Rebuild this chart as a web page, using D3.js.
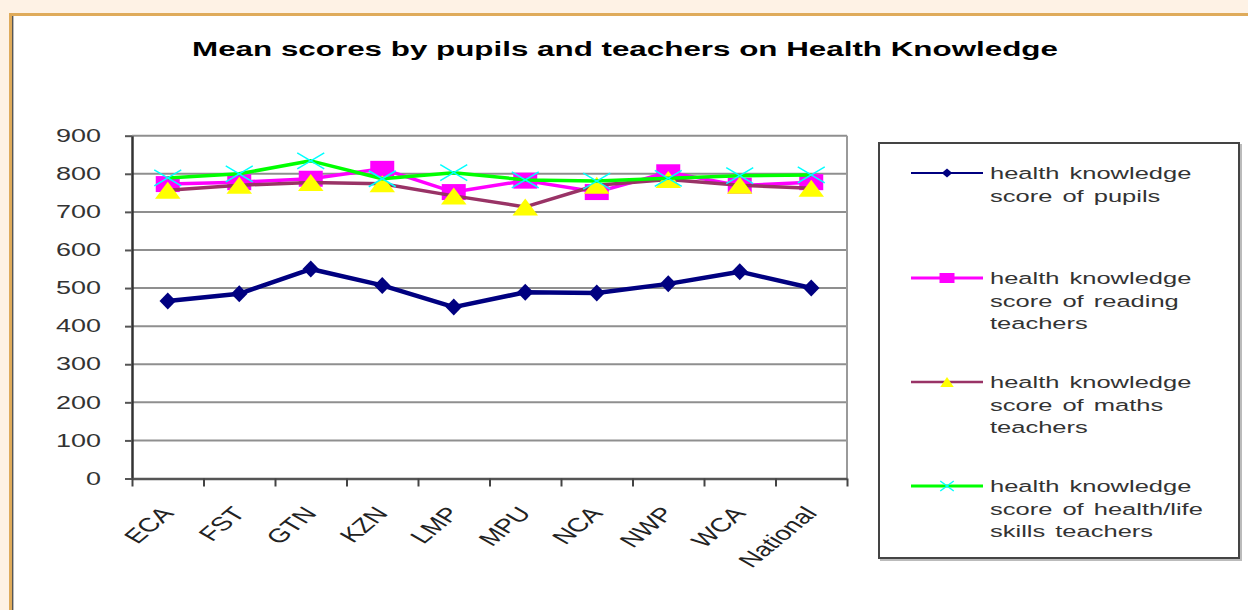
<!DOCTYPE html>
<html>
<head>
<meta charset="utf-8">
<script src="https://cdn.jsdelivr.net/npm/d3@7"></script>
<style>
    html, body { margin: 0; padding: 0; background: #fef2e5; }
    svg { display: block; }
    text { font-family: "Liberation Sans", Arial, sans-serif; }
</style>
</head>
<body>
<svg id="chart" width="1248" height="610"></svg>
<script>
// Data
const categories = ["ECA", "FST", "GTN", "KZN", "LMP", "MPU", "NCA", "NWP", "WCA", "National"];
const pupils = [466, 485, 550, 507, 450, 489, 487, 511, 543, 500];
const readingTeachers = [773, 778, 787, 813, 752, 782, 752, 804, 769, 778];
const mathsTeachers = [757, 770, 777, 774, 742, 713, 770, 785, 770, 762];
const healthTeachers = [789, 800, 834, 787, 803, 784, 781, 788, 795, 797];
const yTicks = [0, 100, 200, 300, 400, 500, 600, 700, 800, 900];
const seriesNames = [
    ["health knowledge", "score of pupils"],
    ["health knowledge", "score of reading", "teachers"],
    ["health knowledge", "score of maths", "teachers"],
    ["health knowledge", "score of health/life", "skills teachers"]
];
const title = "Mean scores by pupils and teachers on Health Knowledge";

// the source picture is stretched sideways, so text and markers are too
const SX = 1.5;

const svg = d3.select("#chart");

// frame: peach page, golden edge, white panel
svg.append("rect").attr("width", 1248).attr("height", 610).attr("fill", "#fef2e5");
svg.append("rect").attr("x", 9).attr("y", 13).attr("width", 1239).attr("height", 597).attr("fill", "#dfab5b");
svg.append("rect").attr("x", 12).attr("y", 16).attr("width", 1236).attr("height", 594).attr("fill", "#555");
svg.append("rect").attr("x", 13).attr("y", 16).attr("width", 1235).attr("height", 594).attr("fill", "#bbb");
svg.append("rect").attr("x", 14).attr("y", 16).attr("width", 1234).attr("height", 594).attr("fill", "#fff");

svg.append("text")
    .attr("transform", `translate(625,56) scale(1.53,1)`)
    .attr("text-anchor", "middle")
    .attr("font-weight", "bold")
    .attr("font-size", 20.5)
    .attr("fill", "#000")
    .text(title);

const plot = { left: 132, right: 847, top: 135.7, bottom: 478.5 };

const x = d3.scaleBand().domain(categories).range([plot.left, plot.right]);
const xEdges = d3.scaleLinear().domain([0, categories.length]).range([plot.left, plot.right]);
const y = d3.scaleLinear().domain([0, 900]).range([plot.bottom, plot.top]);
const cx = d => x(d) + x.bandwidth() / 2;

// grid
svg.append("g")
    .selectAll("line")
    .data(yTicks.filter(v => v > 0))
    .join("line")
    .attr("x1", plot.left).attr("x2", plot.right)
    .attr("y1", d => y(d)).attr("y2", d => y(d))
    .attr("stroke", "#8f8f8f")
    .attr("stroke-width", 2);

svg.append("line")
    .attr("x1", plot.right).attr("x2", plot.right)
    .attr("y1", plot.top).attr("y2", plot.bottom)
    .attr("stroke", "#9a9a9a")
    .attr("stroke-width", 2);

// y axis
const yAxis = svg.append("g")
    .attr("transform", `translate(${plot.left},0)`)
    .call(d3.axisLeft(y).tickValues(yTicks).tickSize(7).tickPadding(24).tickSizeOuter(0));
yAxis.select(".domain").attr("stroke", "#333").attr("stroke-width", 2.5);
yAxis.selectAll(".tick line").attr("stroke", "#555").attr("stroke-width", 2);
yAxis.selectAll(".tick text")
    .attr("x", 0)
    .attr("transform", `translate(-31,0) scale(${SX},1)`)
    .attr("font-family", "Liberation Sans, Arial, sans-serif")
    .attr("font-size", 18)
    .attr("fill", "#333");

// x axis: ticks on the category edges
const xAxis = svg.append("g")
    .attr("transform", `translate(0,${plot.bottom})`)
    .call(d3.axisBottom(xEdges).tickValues(d3.range(categories.length + 1)).tickFormat("").tickSize(8).tickSizeOuter(0));
xAxis.select(".domain").attr("stroke", "#555").attr("stroke-width", 2.5);
xAxis.selectAll(".tick line").attr("stroke", "#444").attr("stroke-width", 2);

svg.append("g")
    .selectAll("text")
    .data(categories)
    .join("text")
    .attr("transform", d => `translate(${cx(d) + 7},514) scale(1.45,1) rotate(-50)`)
    .attr("text-anchor", "end")
    .attr("font-size", 19.5)
    .attr("fill", "#222")
    .text(d => d);

// marker shapes, widened like the rest of the picture
const markers = {
    diamond: (w, h) => `M0,${-h}L${w * SX},0L0,${h}L${-w * SX},0Z`,
    square: (w, h) => `M${-w * SX},${-h}H${w * SX}V${h}H${-w * SX}Z`,
    triangle: (w, h) => `M0,${-h}L${w * SX},${h}L${-w * SX},${h}Z`,
    cross: (w, h) => `M${-w * SX},${-h}L${w * SX},${h}M${w * SX},${-h}L${-w * SX},${h}`
};

const series = [
    { values: pupils, line: "#000080", width: 4.5, marker: "diamond", fill: "#000080", stroke: "none", size: [5.5, 8.5], lsize: [3.5, 4.5], lwidth: 2 },
    { values: readingTeachers, line: "#ff00ff", width: 3.5, marker: "square", fill: "#ff00ff", stroke: "none", size: [8, 8], lsize: [5, 5], lwidth: 3 },
    { values: mathsTeachers, line: "#993366", width: 3.5, marker: "triangle", fill: "#ffff00", stroke: "none", size: [8.5, 8.5], lsize: [4.5, 5], lwidth: 2.5 },
    { values: healthTeachers, line: "#00ff00", width: 3.5, marker: "cross", fill: "none", stroke: "#00ffff", size: [9, 8], lsize: [4.5, 5], lwidth: 3 }
];

const line = d3.line()
    .x((d, i) => cx(categories[i]))
    .y(d => y(d));

series.forEach(s => {
    const g = svg.append("g");
    g.append("path")
        .attr("d", line(s.values))
        .attr("fill", "none")
        .attr("stroke", s.line)
        .attr("stroke-width", s.width)
        .attr("stroke-linejoin", "round");
    g.selectAll(".mark")
        .data(s.values)
        .join("path")
        .attr("class", "mark")
        .attr("transform", (d, i) => `translate(${cx(categories[i])},${y(d)})`)
        .attr("d", markers[s.marker](s.size[0], s.size[1]))
        .attr("fill", s.fill)
        .attr("stroke", s.stroke)
        .attr("stroke-width", 1.5);
});

// legend
svg.append("rect")
    .attr("x", 881).attr("y", 145).attr("width", 360).attr("height", 415)
    .attr("fill", "none").attr("stroke", "#bbb").attr("stroke-width", 2);
svg.append("rect")
    .attr("x", 879).attr("y", 143).attr("width", 360).attr("height", 415)
    .attr("fill", "#fff").attr("stroke", "#444").attr("stroke-width", 2);

const legendRows = [173, 278, 382, 486];
series.forEach((s, i) => {
    const ly = legendRows[i];
    const g = svg.append("g");
    g.append("line")
        .attr("x1", 911).attr("x2", 983)
        .attr("y1", ly).attr("y2", ly)
        .attr("stroke", s.line)
        .attr("stroke-width", s.lwidth);
    g.append("path")
        .attr("transform", `translate(947,${ly})`)
        .attr("d", markers[s.marker](s.lsize[0], s.lsize[1]))
        .attr("fill", s.fill)
        .attr("stroke", s.stroke)
        .attr("stroke-width", 1.5);
    seriesNames[i].forEach((t, j) => {
        g.append("text")
            .attr("transform", `translate(990,${ly + 6 + j * 22.5}) scale(${SX},1)`)
            .attr("font-size", 17)
            .attr("word-spacing", 2)
            .attr("fill", "#333")
            .text(t);
    });
});
</script>
</body>
</html>
